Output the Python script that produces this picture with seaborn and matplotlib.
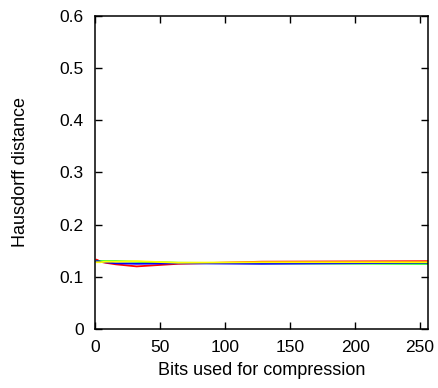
"""Hausdorff distance vs bits used for compression."""
import matplotlib
matplotlib.use("Agg")
import matplotlib.pyplot as plt
import pandas as pd
import seaborn as sns

bits = [1, 2, 4, 8, 16, 32, 64, 128, 256]
red = [0.133, 0.132, 0.129, 0.127, 0.124, 0.120, 0.125, 0.129, 0.130]
green = [0.130, 0.130, 0.130, 0.130, 0.130, 0.129, 0.127, 0.126, 0.125]
blue = [0.130, 0.130, 0.129, 0.128, 0.126, 0.125, 0.126, 0.125, 0.127]
yellow = [0.128, 0.128, 0.128, 0.129, 0.129, 0.130, 0.127, 0.128, 0.128]
series_names = ["red", "green", "blue", "yellow"]
series_colors = ["#ff0000", "#00ff00", "#0000ff", "#ffff00"]

df = pd.DataFrame({"bits": bits, "red": red, "green": green, "blue": blue, "yellow": yellow})
long = df.melt(id_vars="bits", var_name="series", value_name="dist")

sns.set_style("ticks", {"axes.edgecolor": "black", "text.color": "black",
                        "axes.labelcolor": "black", "xtick.color": "black",
                        "ytick.color": "black"})
plt.rcParams["font.family"] = ["Liberation Sans", "DejaVu Sans"]

fig = plt.figure(figsize=(4.38, 3.88), dpi=100)
ax = fig.add_axes([0.217, 0.152, 0.760, 0.807])
sns.lineplot(
    data=long, x="bits", y="dist", hue="series",
    hue_order=series_names, palette=series_colors,
    linewidth=1.3, legend=False, ax=ax,
)

ax.set_xlim(0, 256)
ax.set_ylim(0, 0.6)
ax.set_xticks([0, 50, 100, 150, 200, 250])
ax.set_yticks([0, 0.1, 0.2, 0.3, 0.4, 0.5, 0.6])
ax.set_yticklabels(["0", "0.1", "0.2", "0.3", "0.4", "0.5", "0.6"])
ax.tick_params(direction="in", top=True, right=True, length=5, width=1,
               labelsize=12.5, pad=8)
for s in ax.spines.values():
    s.set_linewidth(1.1)
ax.set_xlabel("Bits used for compression", fontsize=13, labelpad=5)
ax.set_ylabel("Hausdorff distance", fontsize=13, labelpad=22)

fig.savefig("out.png", dpi=100)
plt.close(fig)
